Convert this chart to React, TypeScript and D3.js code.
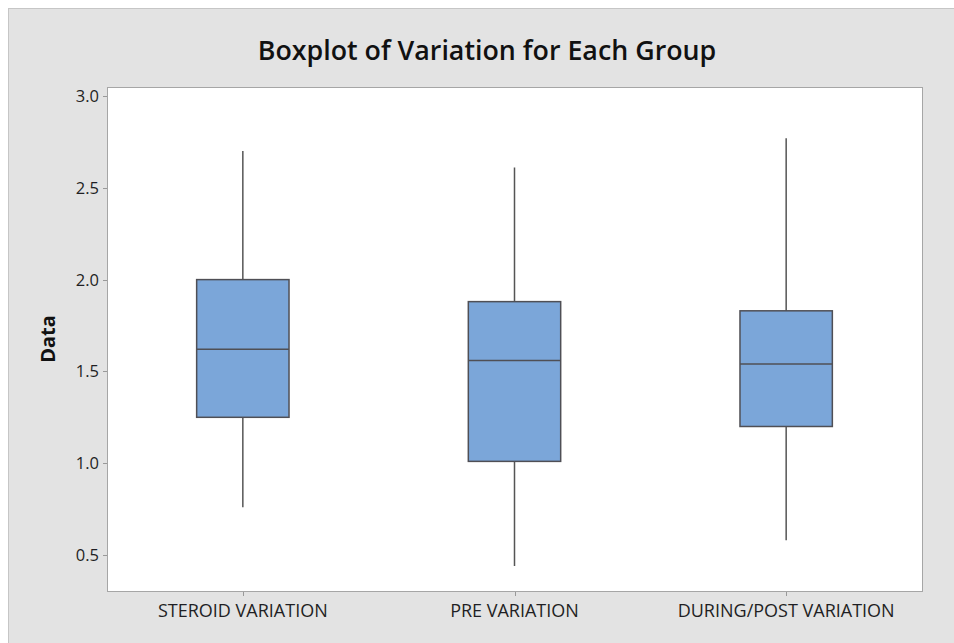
import * as d3 from 'd3'

const groups = ['STEROID VARIATION', 'PRE VARIATION', 'DURING/POST VARIATION']
const whiskerLow = [0.76, 0.44, 0.58]
const q1 = [1.25, 1.01, 1.2]
const median = [1.62, 1.56, 1.54]
const q3 = [2.0, 1.88, 1.83]
const whiskerHigh = [2.7, 2.61, 2.77]
const yTicks = [0.5, 1.0, 1.5, 2.0, 2.5, 3.0]

const W = 954
const H = 643
const plot = { left: 107, right: 922, top: 87, bottom: 591 }
const font = '"Open Sans", sans-serif'

export default function App() {
  const x = d3
    .scalePoint<string>()
    .domain(groups)
    .range([plot.left, plot.right])
    .padding(0.5)

  const y = d3
    .scaleLinear()
    .domain([0.304, 3.049])
    .range([plot.bottom, plot.top])

  const boxW = x.step() * 0.34

  const boxes = groups.map((g, i) => ({
    g,
    cx: x(g) as number,
    lo: whiskerLow[i],
    q1: q1[i],
    med: median[i],
    q3: q3[i],
    hi: whiskerHigh[i],
  }))

  return (
    <svg
      width={W}
      height={H}
      style={{ position: 'absolute', left: 0, top: 0, background: '#fff' }}
    >
      <rect x={8.5} y={8.5} width={W} height={H} fill="#e3e3e3" stroke="#c6c6c6" />
      <text
        x={487}
        y={60}
        textAnchor="middle"
        fontFamily={font}
        fontWeight={600}
        fontSize={26.8}
        fill="#111"
      >
        Boxplot of Variation for Each Group
      </text>

      <rect
        x={plot.left + 0.5}
        y={plot.top + 0.5}
        width={plot.right - plot.left}
        height={plot.bottom - plot.top}
        fill="#fff"
        stroke="#a6a6a6"
      />

      {yTicks.map(t => (
        <g key={t}>
          <line
            x1={plot.left - 4}
            x2={plot.left}
            y1={Math.round(y(t)) + 0.5}
            y2={Math.round(y(t)) + 0.5}
            stroke="#999"
          />
          <text
            x={plot.left - 8}
            y={y(t) + 6}
            textAnchor="end"
            fontFamily={font}
            fontSize={16.5}
            fill="#1f1f24"
          >
            {t.toFixed(1)}
          </text>
        </g>
      ))}

      {boxes.map(b => (
        <g key={b.g}>
          <line
            x1={Math.round(b.cx) + 0.5}
            x2={Math.round(b.cx) + 0.5}
            y1={plot.bottom + 1}
            y2={plot.bottom + 5}
            stroke="#999"
          />
          <text
            x={b.cx}
            y={617}
            textAnchor="middle"
            fontFamily={font}
            fontSize={18}
            fill="#1f1f24"
          >
            {b.g}
          </text>
          <line
            x1={b.cx}
            x2={b.cx}
            y1={y(b.hi)}
            y2={y(b.lo)}
            stroke="#555"
            strokeWidth={1.5}
          />
          <rect
            x={b.cx - boxW / 2}
            y={y(b.q3)}
            width={boxW}
            height={y(b.q1) - y(b.q3)}
            fill="#7ba6d9"
            stroke="#4f4f55"
            strokeWidth={1.5}
          />
          <line
            x1={b.cx - boxW / 2}
            x2={b.cx + boxW / 2}
            y1={y(b.med)}
            y2={y(b.med)}
            stroke="#4f4f55"
            strokeWidth={1.5}
          />
        </g>
      ))}

      <text
        transform={`translate(55,339) rotate(-90)`}
        textAnchor="middle"
        fontFamily={font}
        fontWeight="bold"
        fontSize={20}
        fill="#111"
      >
        Data
      </text>
    </svg>
  )
}
